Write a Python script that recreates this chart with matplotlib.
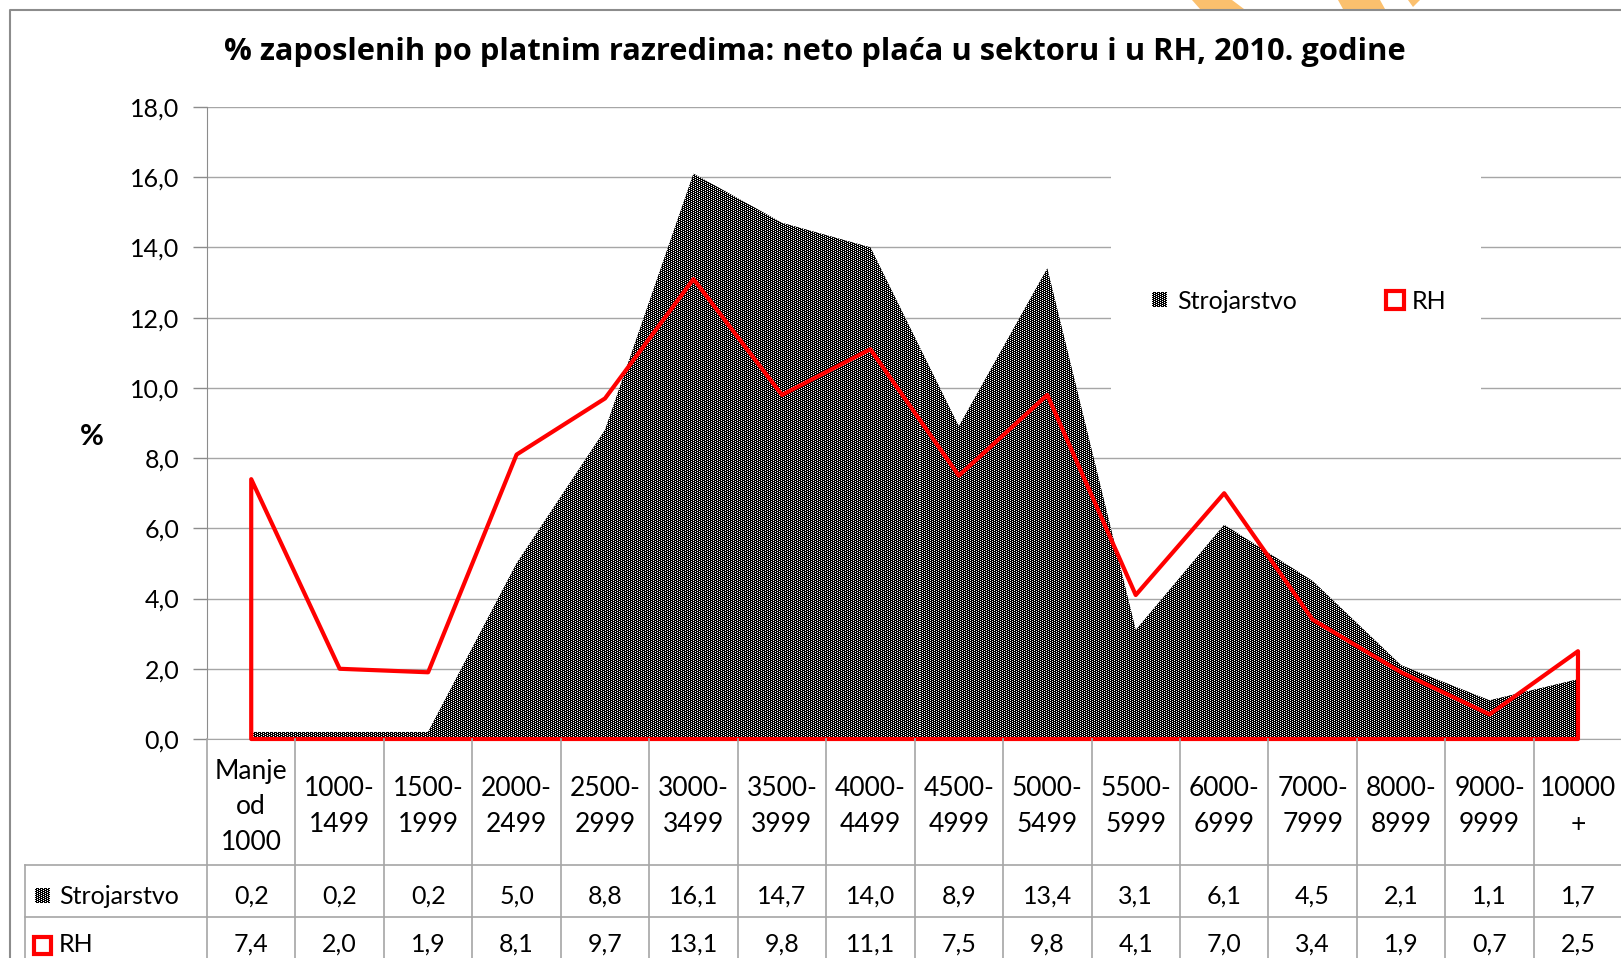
#!/usr/bin/env python3
"""% zaposlenih po platnim razredima - Strojarstvo vs RH, 2010 (area + table)."""
import numpy as np
import matplotlib
matplotlib.use("Agg")
import matplotlib.pyplot as plt
from matplotlib.lines import Line2D
from matplotlib.patches import Rectangle, Polygon
from matplotlib import transforms

# data
razredi = ["Manje\nod\n1000", "1000-\n1499", "1500-\n1999", "2000-\n2499",
           "2500-\n2999", "3000-\n3499", "3500-\n3999", "4000-\n4499",
           "4500-\n4999", "5000-\n5499", "5500-\n5999", "6000-\n6999",
           "7000-\n7999", "8000-\n8999", "9000-\n9999", "10000\n+"]
strojarstvo = [0.2, 0.2, 0.2, 5.0, 8.8, 16.1, 14.7, 14.0, 8.9, 13.4,
               3.1, 6.1, 4.5, 2.1, 1.1, 1.7]
rh = [7.4, 2.0, 1.9, 8.1, 9.7, 13.1, 9.8, 11.1, 7.5, 9.8,
      4.1, 7.0, 3.4, 1.9, 0.7, 2.5]
y_ticks = [0, 2, 4, 6, 8, 10, 12, 14, 16, 18]
title = "% zaposlenih po platnim razredima: neto plaća u sektoru i u RH, 2010. godine"

W, H = 1621, 958
FONT = "Lato"
GRID = "#a6a6a6"
LINE = "#8c8c8c"
FS = 18


def fy(y_top):
    # pixel row from top -> figure fraction
    return 1 - y_top / H


def fx(x):
    return x / W


def dither(h, w):
    r, c = np.mgrid[0:h, 0:w]
    white = ((r % 2 == 0) & (c % 4 == 0)) | ((r % 2 == 1) & (c % 4 == 2))
    return white.astype(float)


def fmt(v):
    return f"{v:.1f}".replace(".", ",")


def main():
    plt.rcParams["font.family"] = [FONT, "DejaVu Sans"]
    fig = plt.figure(figsize=(W / 100, H / 100), dpi=100)

    left, top, bottom = 207, 107, 739
    cat_w = 88.45
    n = len(razredi)
    ax = fig.add_axes([fx(left), fy(bottom), n * cat_w / W, (bottom - top) / H])
    x = np.arange(n)

    ax.set_xlim(-0.5, n - 0.5)
    ax.set_ylim(0, 18)
    ax.set_axisbelow(True)
    ax.yaxis.grid(True, color=GRID, lw=1.0)
    ax.set_yticks(y_ticks)
    ax.set_yticklabels([fmt(t) for t in y_ticks], fontsize=FS)
    ax.tick_params(axis="y", length=10, width=1, color=LINE, pad=10)
    ax.set_xticks([])
    for s in ["top", "right"]:
        ax.spines[s].set_visible(False)
    ax.spines["left"].set_color(LINE)
    ax.spines["bottom"].set_color(GRID)
    fig.text(fx(92), fy(437), "%", fontsize=21, fontweight="bold",
             ha="center", va="center")

    # area Strojarstvo with dithered fill
    poly = ax.fill_between(x, strojarstvo, 0, facecolor="#404040",
                           linewidth=0, zorder=2)
    ph = int(round(bottom - top))
    pw = int(round(n * cat_w))
    im = ax.imshow(dither(ph, pw), cmap="gray", vmin=0, vmax=1,
                   extent=(-0.5, n - 0.5, 0, 18), aspect="auto",
                   interpolation="nearest", origin="upper", zorder=3)
    im.set_clip_path(poly.get_paths()[0], transform=ax.transData)
    ax.set_xlim(-0.5, n - 0.5)
    ax.set_ylim(0, 18)

    # RH as outlined area
    ax.fill_between(x, rh, 0, facecolor="none", edgecolor="#ff0000",
                    linewidth=3, zorder=4, clip_on=False)

    # white legend box hiding the grid
    ax.add_patch(Rectangle((fx(1111), fy(420)), fx(1481 - 1111),
                           (420 - 150) / H, transform=fig.transFigure,
                           facecolor="white", edgecolor="none", zorder=1))
    fig.figimage(dither(15, 15), 1152, H - 307, cmap="gray", vmin=0, vmax=1,
                 origin="upper", zorder=5)
    fig.text(fx(1177), fy(302), "Strojarstvo", fontsize=FS, va="center")
    fig.add_artist(Rectangle((fx(1386), fy(309)), fx(18), 18 / H,
                             transform=fig.transFigure, facecolor="white",
                             edgecolor="#ff0000", linewidth=3))
    fig.text(fx(1412), fy(302), "RH", fontsize=FS, va="center")

    # title
    fig.text(fx(815), fy(52), title, fontsize=22.2, fontweight="bold",
             family=["Open Sans", "DejaVu Sans"], ha="center", va="center")

    # data table
    bt = transforms.blended_transform_factory(ax.transData, fig.transFigure)
    for i in range(n + 1):
        fig.add_artist(Line2D([i - 0.5, i - 0.5], [fy(bottom), fy(H + 5)],
                              transform=bt, color=GRID, lw=1.2))
    for yy in (865, 917):
        fig.add_artist(Line2D([fx(25), fx(W + 5)], [fy(yy), fy(yy)],
                              transform=fig.transFigure, color=GRID, lw=1.2))
    fig.add_artist(Line2D([fx(25), fx(25)], [fy(865), fy(H + 5)],
                          transform=fig.transFigure, color=GRID, lw=1.2))

    for i, lab in enumerate(razredi):
        fig.text(i, fy(807), lab, transform=bt, fontsize=19, ha="center",
                 va="center", linespacing=1.55, multialignment="center")
        fig.text(i, fy(896), fmt(strojarstvo[i]), transform=bt, fontsize=FS,
                 ha="center", va="center")
        fig.text(i, fy(944), fmt(rh[i]), transform=bt, fontsize=FS,
                 ha="center", va="center")

    fig.figimage(dither(15, 15), 35, H - 903, cmap="gray", vmin=0, vmax=1,
                 origin="upper", zorder=5)
    fig.text(fx(59), fy(897), "Strojarstvo", fontsize=FS, va="center")
    fig.add_artist(Rectangle((fx(34), fy(954)), fx(17), 17 / H,
                             transform=fig.transFigure, facecolor="white",
                             edgecolor="#ff0000", linewidth=3))
    fig.text(fx(59), fy(944), "RH", fontsize=FS, va="center")

    # chart border and the orange bits peeking in from above
    fig.add_artist(Line2D([fx(10), fx(10), fx(W + 5)],
                          [fy(H + 5), fy(10), fy(10)],
                          transform=fig.transFigure, color=LINE, lw=1.5))
    for pts in ([(1192, 0), (1232, 0), (1244, 9), (1200, 9)],
                [(1338, 0), (1380, 0), (1385, 9), (1343, 9)],
                [(1408, 0), (1420, 0), (1413, 7)]):
        fig.add_artist(Polygon([(fx(a), fy(b)) for a, b in pts], closed=True,
                               transform=fig.transFigure,
                               facecolor="#fbc06e", edgecolor="none"))

    fig.savefig("out.png", dpi=100)
    return 0


if __name__ == "__main__":
    raise SystemExit(main())
